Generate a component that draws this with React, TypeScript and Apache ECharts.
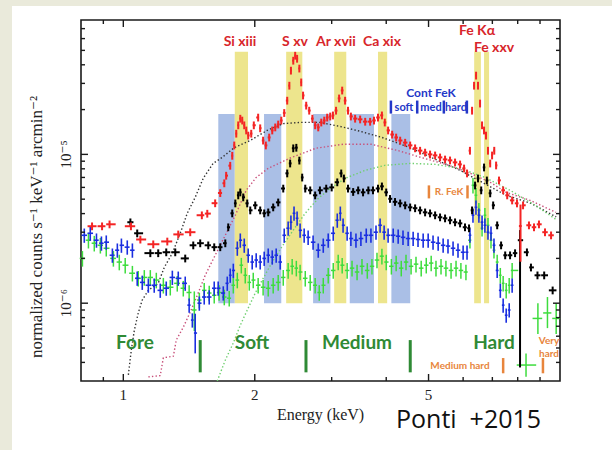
import React, { useEffect, useRef } from 'react';
import * as echarts from 'echarts';

const X_MIN = 0.8;
const X_MAX = 10;
const Y_MIN = 3e-7;
const Y_MAX = 8e-5;

const X_MAJOR_TICKS = [1, 2, 5];
const X_MINOR_TICKS = [0.9, 3, 4, 6, 7, 8, 9];
const Y_MAJOR_TICKS = [1e-6, 1e-5];
const Y_MINOR_TICKS = [
  4e-7, 5e-7, 6e-7, 7e-7, 8e-7, 9e-7,
  2e-6, 3e-6, 4e-6, 5e-6, 6e-6, 7e-6, 8e-6, 9e-6,
  2e-5, 3e-5, 4e-5, 5e-5, 6e-5, 7e-5,
];

// emission line bands (keV) and continuum bands
const LINE_BANDS = [[1.8, 1.93], [2.36, 2.57], [3.04, 3.24], [3.83, 4.02], [6.36, 6.59], [6.7, 6.88]];
const LINE_BAND_FLUX = [1e-6, 4.9e-5];
const CONT_BANDS = [[1.65, 1.8], [2.1, 2.3], [2.72, 2.98], [3.3, 3.75], [4.11, 4.54]];
const CONT_BAND_FLUX = [1e-6, 1.87e-5];

// marker bars
const REGION_BOUNDS = [1.5, 2.62, 4.54];
const REGION_BOUNDS_FLUX = [3.43e-7, 5.65e-7];
const HARD_BOUNDS = [7.41, 9.14];
const HARD_BOUNDS_FLUX = [3.38e-7, 4.28e-7];
const CONT_FEK_BOUNDS = [4.1, 4.71, 5.42, 6.12];
const CONT_FEK_FLUX = [1.88e-5, 2.3e-5];
const RFEK_BOUNDS = [5.01, 6.14];
const RFEK_FLUX = [5.06e-6, 6.19e-6];

// spectra [E, F, (Flo, Fhi, Elo, Ehi)]
const RED = [
  [0.848, 3.29e-6], [0.894, 3.29e-6], [0.93, 3.39e-6], [1.041, 3.29e-6], [1.094, 2.68e-6],
  [1.171, 2.49e-6], [1.261, 2.6e-6], [1.336, 2.9e-6], [1.423, 3.0e-6], [1.513, 3.9e-6],
  [1.557, 4.0e-6], [1.623, 4.7e-6], [1.667, 5.5e-6], [1.703, 6.4e-6], [1.72, 7.2e-6],
  [1.757, 8.4e-6], [1.776, 9.8e-6], [1.795, 1.15e-5], [1.814, 1.38e-5], [1.833, 1.57e-5],
  [1.853, 1.74e-5], [1.872, 1.69e-5], [1.892, 1.57e-5], [1.912, 1.45e-5], [1.932, 1.34e-5],
  [1.963, 1.38e-5], [1.99, 1.57e-5], [2.036, 1.77e-5], [2.058, 1.5e-5], [2.09, 1.24e-5],
  [2.12, 1.15e-5], [2.158, 1.3e-5], [2.193, 1.45e-5], [2.228, 1.52e-5], [2.263, 1.59e-5],
  [2.3, 1.69e-5], [2.336, 1.9e-5], [2.373, 2.3e-5], [2.4, 2.9e-5], [2.42, 3.66e-5],
  [2.45, 4.27e-5], [2.475, 4.61e-5], [2.5, 4.4e-5], [2.53, 3.78e-5], [2.555, 3.05e-5],
  [2.58, 2.49e-5], [2.623, 2.13e-5], [2.665, 1.97e-5], [2.71, 1.74e-5], [2.75, 1.57e-5],
  [2.795, 1.52e-5], [2.84, 1.64e-5], [2.885, 1.69e-5], [2.93, 1.77e-5], [2.977, 1.8e-5],
  [3.02, 1.83e-5], [3.07, 1.97e-5], [3.12, 2.38e-5], [3.171, 2.69e-5], [3.22, 2.3e-5],
  [3.27, 1.97e-5], [3.32, 1.8e-5], [3.395, 1.74e-5], [3.486, 1.72e-5], [3.58, 1.66e-5],
  [3.674, 1.66e-5], [3.75, 1.69e-5], [3.83, 1.77e-5], [3.91, 1.83e-5], [3.97, 1.64e-5],
  [4.04, 1.45e-5], [4.127, 1.36e-5], [4.215, 1.3e-5], [4.305, 1.24e-5], [4.42, 1.2e-5],
  [4.538, 1.15e-5], [4.658, 1.1e-5], [4.782, 1.06e-5], [4.91, 1.03e-5], [5.04, 1.0e-5],
  [5.176, 9.85e-6], [5.313, 9.55e-6], [5.455, 9.25e-6], [5.6, 9.12e-6], [5.75, 8.84e-6],
  [5.904, 8.57e-6], [6.03, 8.05e-6], [6.125, 7.46e-6], [6.22, 1.06e-5], [6.29, 1.97e-5],
  [6.357, 2.9e-5], [6.424, 3.39e-5], [6.49, 2.9e-5], [6.56, 2.2e-5], [6.63, 1.57e-5],
  [6.7, 1.45e-5], [6.77, 1.34e-5], [6.84, 1.06e-5], [6.92, 8.7e-6], [6.99, 9.85e-6],
  [7.07, 1.06e-5], [7.14, 8.44e-6], [7.25, 6.69e-6], [7.41, 5.74e-6], [7.57, 5.31e-6],
  [7.77, 4.91e-6], [7.97, 4.69e-6], [8.12, 3.3e-6, 1.9e-6, 4.6e-6], [8.23, 4.55e-6], [8.49, 3.34e-6],
  [8.72, 3.24e-6], [8.95, 3.39e-6], [9.24, 3.0e-6], [9.54, 2.86e-6],
];

const BLACK = [
  [1.038, 3.5e-6], [1.076, 2.95e-6], [1.153, 2.17e-6], [1.202, 2.17e-6], [1.254, 2.2e-6],
  [1.315, 2.2e-6], [1.386, 2.0e-6], [1.446, 2.45e-6], [1.5, 2.53e-6], [1.565, 2.45e-6],
  [1.615, 2.38e-6], [1.667, 2.38e-6], [1.712, 2.53e-6], [1.739, 3.24e-6], [1.776, 4.02e-6],
  [1.805, 4.69e-6], [1.833, 5.31e-6], [1.853, 5.56e-6], [1.882, 5.15e-6], [1.922, 4.69e-6],
  [1.953, 4.21e-6], [2.005, 4.55e-6], [2.058, 4.21e-6], [2.102, 4.02e-6], [2.147, 4.08e-6],
  [2.204, 4.41e-6], [2.263, 4.76e-6], [2.324, 5.9e-6], [2.373, 7.46e-6], [2.41, 8.7e-6],
  [2.45, 1.1e-5], [2.49, 1.11e-5], [2.53, 9.1e-6], [2.568, 7.0e-6], [2.61, 5.9e-6],
  [2.679, 5.74e-6], [2.75, 5.31e-6], [2.82, 5.74e-6], [2.915, 5.9e-6], [3.0, 6.0e-6],
  [3.09, 6.5e-6], [3.155, 7.46e-6], [3.2, 6.9e-6], [3.27, 5.9e-6], [3.36, 5.6e-6],
  [3.45, 5.74e-6], [3.54, 5.56e-6], [3.64, 5.74e-6], [3.73, 5.74e-6], [3.83, 5.9e-6],
  [3.91, 6.1e-6], [4.0, 5.56e-6], [4.08, 5.03e-6], [4.19, 4.8e-6], [4.305, 4.69e-6],
  [4.42, 4.55e-6], [4.538, 4.41e-6], [4.658, 4.35e-6], [4.782, 4.21e-6], [4.91, 4.08e-6],
  [5.04, 4.02e-6], [5.176, 3.9e-6], [5.313, 3.78e-6], [5.455, 3.72e-6], [5.6, 3.61e-6],
  [5.75, 3.5e-6], [5.904, 3.44e-6], [6.06, 3.24e-6], [6.19, 3.19e-6], [6.29, 4.21e-6],
  [6.39, 6.19e-6], [6.49, 6.9e-6], [6.6, 5.74e-6], [6.7, 8.18e-6], [6.8, 6.69e-6],
  [6.92, 5.48e-6], [7.03, 4.55e-6], [7.18, 3.34e-6], [7.33, 2.45e-6], [7.49, 2.1e-6],
  [7.685, 2.1e-6], [7.89, 2.17e-6], [8.1, 2.65e-6, 3.7e-7, 3.1e-6], [8.4, 2.2e-6], [8.58, 1.74e-6],
  [8.88, 1.54e-6], [9.2, 1.54e-6], [9.62, 1.22e-6],
];

const BLUE = [
  [0.814, 2.86e-6], [0.84, 2.95e-6], [0.868, 2.65e-6], [0.891, 2.53e-6], [0.914, 2.57e-6],
  [0.944, 2.1e-6], [0.969, 2.27e-6], [0.99, 2.45e-6], [1.021, 2.38e-6], [1.049, 2.27e-6],
  [1.076, 1.47e-6], [1.105, 1.38e-6], [1.141, 1.32e-6], [1.177, 1.32e-6], [1.215, 1.22e-6],
  [1.254, 1.26e-6], [1.295, 1.49e-6], [1.336, 1.47e-6], [1.386, 1.36e-6], [1.415, 9.7e-7],
  [1.439, 7.7e-7], [1.461, 6.3e-7, 4.6e-7, 8.5e-7], [1.493, 1.0e-6], [1.532, 1.1e-6], [1.573, 1.1e-6],
  [1.615, 1.26e-6], [1.649, 1.26e-6], [1.694, 1.17e-6], [1.73, 1.36e-6], [1.757, 1.54e-6],
  [1.786, 1.66e-6], [1.824, 2.34e-6], [1.853, 2.65e-6], [1.892, 2.45e-6], [1.932, 2.1e-6],
  [1.973, 1.89e-6], [2.015, 1.95e-6], [2.058, 1.89e-6], [2.102, 2.0e-6], [2.147, 2.1e-6],
  [2.193, 2.04e-6], [2.239, 2.1e-6], [2.287, 1.89e-6], [2.336, 2.86e-6], [2.385, 3.19e-6],
  [2.42, 3.5e-6], [2.46, 4.02e-6], [2.5, 3.72e-6], [2.54, 3.09e-6], [2.595, 2.86e-6],
  [2.65, 2.77e-6], [2.72, 2.57e-6], [2.795, 2.27e-6], [2.87, 2.45e-6], [2.946, 2.65e-6],
  [3.025, 2.95e-6], [3.09, 3.61e-6], [3.14, 4.02e-6], [3.186, 3.34e-6], [3.255, 2.95e-6],
  [3.32, 2.72e-6], [3.41, 2.65e-6], [3.5, 2.72e-6], [3.6, 2.86e-6], [3.69, 2.86e-6],
  [3.79, 3.0e-6], [3.873, 3.34e-6], [3.956, 3.0e-6], [4.04, 2.86e-6], [4.15, 2.86e-6],
  [4.26, 2.82e-6], [4.37, 2.77e-6], [4.49, 2.72e-6], [4.61, 2.72e-6], [4.73, 2.68e-6],
  [4.86, 2.65e-6], [4.99, 2.65e-6], [5.12, 2.57e-6], [5.26, 2.53e-6], [5.4, 2.45e-6],
  [5.54, 2.42e-6], [5.69, 2.34e-6], [5.84, 2.27e-6], [6.0, 2.2e-6], [6.125, 2.2e-6],
  [6.22, 2.86e-6], [6.32, 3.9e-6], [6.42, 4.41e-6], [6.52, 3.9e-6], [6.63, 3.5e-6],
  [6.73, 3.34e-6], [6.84, 3.0e-6], [6.95, 2.95e-6], [7.06, 2.45e-6], [7.18, 1.66e-6],
  [7.3, 1.22e-6], [7.41, 9.7e-7], [7.53, 8.3e-7], [7.65, 9.0e-7], [7.77, 1.32e-6],
];

const GREEN = [
  [0.806, 2.0e-6], [0.832, 2.65e-6], [0.858, 2.53e-6], [0.886, 2.45e-6], [0.914, 2.34e-6],
  [0.949, 2.0e-6], [0.979, 1.89e-6], [1.01, 1.8e-6], [1.049, 1.59e-6], [1.082, 1.47e-6],
  [1.117, 1.49e-6], [1.153, 1.49e-6], [1.19, 1.43e-6], [1.235, 1.32e-6], [1.281, 1.28e-6],
  [1.329, 1.36e-6], [1.372, 1.26e-6], [1.415, 1.18e-6], [1.454, 9.0e-7, 6.5e-7, 1.2e-6], [1.493, 1.05e-6],
  [1.532, 1.22e-6], [1.573, 1.17e-6], [1.615, 1.13e-6], [1.657, 1.18e-6], [1.703, 1.1e-6],
  [1.748, 1.08e-6], [1.786, 1.32e-6], [1.824, 1.43e-6], [1.863, 1.8e-6], [1.902, 1.54e-6],
  [1.943, 1.38e-6], [1.984, 1.43e-6], [2.036, 1.32e-6], [2.09, 1.28e-6], [2.147, 1.26e-6],
  [2.204, 1.32e-6], [2.263, 1.38e-6], [2.324, 1.49e-6], [2.385, 1.66e-6], [2.436, 1.77e-6],
  [2.49, 1.72e-6], [2.54, 1.62e-6], [2.61, 1.47e-6], [2.679, 1.38e-6], [2.75, 1.32e-6],
  [2.81, 1.18e-6], [2.87, 1.32e-6], [2.946, 1.54e-6], [3.025, 1.66e-6], [3.105, 1.89e-6],
  [3.171, 1.8e-6], [3.255, 1.66e-6], [3.34, 1.72e-6], [3.43, 1.62e-6], [3.52, 1.77e-6],
  [3.62, 1.66e-6], [3.71, 1.77e-6], [3.81, 1.95e-6], [3.91, 2.07e-6], [4.0, 1.89e-6],
  [4.11, 1.77e-6], [4.215, 1.86e-6], [4.33, 1.72e-6], [4.44, 1.89e-6], [4.56, 1.77e-6],
  [4.68, 1.83e-6], [4.81, 1.72e-6], [4.94, 1.8e-6], [5.07, 1.86e-6], [5.2, 1.72e-6],
  [5.34, 1.77e-6], [5.48, 1.72e-6], [5.63, 1.66e-6], [5.78, 1.72e-6], [5.93, 1.66e-6],
  [6.09, 1.62e-6], [6.22, 2.65e-6], [6.32, 6.2e-6], [6.42, 5.31e-6], [6.52, 4.21e-6],
  [6.63, 3.19e-6], [6.73, 3.9e-6], [6.84, 3.34e-6], [6.95, 2.65e-6], [7.06, 2.27e-6],
  [7.18, 1.89e-6], [7.3, 1.54e-6], [7.41, 1.36e-6], [7.53, 1.22e-6], [7.65, 1.32e-6],
  [7.77, 1.66e-6], [8.36, 3.84e-7, 3.2e-7, 4.6e-7, 7.96, 8.82], [8.9, 7.9e-7, 6.2e-7, 1.0e-6],
  [9.36, 8.6e-7, 6.8e-7, 1.1e-6], [9.8, 7.9e-7, 6.2e-7, 1.0e-6],
];

// model curves
const MODEL_BLACK = [
  [1.027, 3.3e-7], [1.043, 4.84e-7], [1.06, 6.6e-7], [1.082, 8.6e-7], [1.105, 1.05e-6],
  [1.141, 1.22e-6], [1.202, 1.36e-6], [1.241, 1.74e-6], [1.295, 2.17e-6], [1.35, 2.95e-6],
  [1.401, 4.02e-6], [1.461, 5.15e-6], [1.524, 6.9e-6], [1.606, 8.7e-6], [1.685, 9.55e-6],
  [1.795, 1.11e-5], [1.953, 1.24e-5], [2.135, 1.45e-5], [2.324, 1.61e-5], [2.54, 1.64e-5],
  [2.82, 1.64e-5], [3.14, 1.54e-5], [3.486, 1.43e-5], [3.91, 1.3e-5], [4.538, 1.11e-5],
  [5.24, 9.12e-6], [5.904, 7.81e-6], [6.7, 6.39e-6], [7.53, 5.31e-6], [8.58, 4.69e-6],
  [9.8, 3.8e-6],
];
const MODEL_RED = [
  [1.141, 3.2e-7], [1.215, 3.26e-7], [1.235, 4.3e-7], [1.302, 4.4e-7], [1.322, 5.65e-7],
  [1.372, 6.9e-7], [1.423, 8.7e-7], [1.477, 1.13e-6], [1.54, 1.54e-6], [1.623, 2.1e-6],
  [1.712, 2.86e-6], [1.805, 3.9e-6], [1.912, 5.74e-6], [2.015, 7.0e-6], [2.147, 8.05e-6],
  [2.4, 9.4e-6], [2.76, 1.1e-5], [3.186, 1.17e-5], [3.69, 1.17e-5], [4.26, 1.06e-5],
  [4.8, 9.55e-6], [5.57, 8.44e-6], [6.16, 7.57e-6], [6.92, 6.5e-6], [7.53, 5.56e-6],
  [8.54, 4.91e-6], [9.79, 4.08e-6],
];
const MODEL_GREEN = [
  [1.641, 3.0e-7], [1.712, 4.14e-7], [1.785, 5.39e-7], [1.853, 7.11e-7], [1.922, 8.98e-7],
  [2.005, 1.17e-6], [2.091, 1.47e-6], [2.193, 1.89e-6], [2.311, 2.41e-6], [2.449, 3.09e-6],
  [2.609, 4.02e-6], [2.795, 5.06e-6], [2.977, 5.9e-6], [3.22, 6.9e-6], [3.58, 7.81e-6],
  [3.97, 8.44e-6], [4.538, 8.7e-6], [5.18, 8.57e-6], [5.904, 8.05e-6], [6.73, 7.0e-6],
  [7.685, 5.74e-6], [8.77, 4.55e-6], [9.85, 3.61e-6],
];

const AXIS_COLOR = '#1a1a1a';
const SERIF = '"Liberation Serif", "DejaVu Serif", serif';

function crossData(pts: number[][], errFrac: number) {
  const lg = pts.map((p) => Math.log10(p[0]));
  return pts.map((p, i) => {
    const dl = i > 0 ? (lg[i] - lg[i - 1]) / 2 : i < pts.length - 1 ? (lg[i + 1] - lg[i]) / 2 : 0.01;
    const dr = i < pts.length - 1 ? (lg[i + 1] - lg[i]) / 2 : dl;
    const hl = Math.min(dl * 0.9, 0.014);
    const hr = Math.min(dr * 0.9, 0.014);
    const fLo = p[2] !== undefined ? p[2] : p[1] * (1 - errFrac);
    const fHi = p[3] !== undefined ? p[3] : p[1] * (1 + errFrac);
    const eLo = p[4] !== undefined ? p[4] : Math.pow(10, lg[i] - hl);
    const eHi = p[5] !== undefined ? p[5] : Math.pow(10, lg[i] + hr);
    return [p[0], p[1], eLo, eHi, fLo, fHi];
  });
}

function crossSeries(name: string, pts: number[][], color: string, width: number, errFrac: number, z: number) {
  return {
    type: 'custom',
    name,
    z,
    silent: true,
    coordinateSystem: 'cartesian2d',
    encode: { x: 0, y: 1 },
    data: crossData(pts, errFrac),
    renderItem: (params: any, api: any) => {
      const e = api.value(0);
      const f = api.value(1);
      const a = api.coord([api.value(2), f]);
      const b = api.coord([api.value(3), f]);
      const c = api.coord([e, api.value(5)]);
      const d = api.coord([e, api.value(4)]);
      const st = { stroke: color, lineWidth: width };
      return {
        type: 'group',
        children: [
          { type: 'line', shape: { x1: a[0], y1: a[1], x2: b[0], y2: b[1] }, style: st },
          { type: 'line', shape: { x1: c[0], y1: c[1], x2: d[0], y2: d[1] }, style: st },
        ],
      };
    },
  };
}

function bandSeries(bands: number[][], flux: number[], color: string, z: number) {
  return {
    type: 'custom',
    z,
    silent: true,
    coordinateSystem: 'cartesian2d',
    encode: { x: [0, 1], y: [2, 3] },
    data: bands.map((b) => [b[0], b[1], flux[0], flux[1]]),
    renderItem: (params: any, api: any) => {
      const p1 = api.coord([api.value(0), api.value(3)]);
      const p2 = api.coord([api.value(1), api.value(2)]);
      return {
        type: 'rect',
        shape: { x: p1[0], y: p1[1], width: p2[0] - p1[0], height: p2[1] - p1[1] },
        style: { fill: color },
      };
    },
  };
}

function markerSeries(values: number[], flux: number[], color: string, width: number, z: number) {
  return {
    type: 'custom',
    z,
    silent: true,
    coordinateSystem: 'cartesian2d',
    encode: { x: 0, y: [1, 2] },
    data: values.map((v) => [v, flux[0], flux[1]]),
    renderItem: (params: any, api: any) => {
      const p1 = api.coord([api.value(0), api.value(2)]);
      const p2 = api.coord([api.value(0), api.value(1)]);
      return {
        type: 'line',
        shape: { x1: p1[0], y1: p1[1], x2: p2[0], y2: p2[1] },
        style: { stroke: color, lineWidth: width },
      };
    },
  };
}

function modelSeries(pts: number[][], color: string) {
  return {
    type: 'line',
    z: 2,
    silent: true,
    data: pts,
    showSymbol: false,
    symbol: 'none',
    lineStyle: { color, width: 1.4, type: [1.4, 2.2] },
  };
}

function xTickSeries() {
  const data = [
    ...X_MAJOR_TICKS.map((v) => [v, Y_MIN, 1]),
    ...X_MINOR_TICKS.map((v) => [v, Y_MIN, 0]),
  ];
  return {
    type: 'custom',
    z: 20,
    silent: true,
    coordinateSystem: 'cartesian2d',
    encode: { x: 0, y: 1 },
    data,
    renderItem: (params: any, api: any) => {
      const v = api.value(0);
      const major = api.value(2) === 1;
      const b = api.coord([v, Y_MIN]);
      const t = api.coord([v, Y_MAX]);
      const len = major ? 7 : 4;
      const st = { stroke: AXIS_COLOR, lineWidth: 1.4 };
      const children: any[] = [
        { type: 'line', shape: { x1: b[0], y1: b[1], x2: b[0], y2: b[1] - len }, style: st },
        { type: 'line', shape: { x1: t[0], y1: t[1], x2: t[0], y2: t[1] + len }, style: st },
      ];
      if (major) {
        children.push({
          type: 'text',
          x: b[0],
          y: b[1] + 6,
          style: {
            text: String(v),
            fill: '#222',
            font: '15px ' + SERIF,
            align: 'center',
            verticalAlign: 'top',
            textAlign: 'center',
            textVerticalAlign: 'top',
          },
        });
      }
      return { type: 'group', children };
    },
  };
}

function yTickSeries() {
  const data = [
    ...Y_MAJOR_TICKS.map((v) => [X_MIN, v, 1]),
    ...Y_MINOR_TICKS.map((v) => [X_MIN, v, 0]),
  ];
  return {
    type: 'custom',
    z: 20,
    silent: true,
    coordinateSystem: 'cartesian2d',
    encode: { x: 0, y: 1 },
    data,
    renderItem: (params: any, api: any) => {
      const v = api.value(1);
      const major = api.value(2) === 1;
      const l = api.coord([X_MIN, v]);
      const r = api.coord([X_MAX, v]);
      const len = major ? 7 : 4;
      const st = { stroke: AXIS_COLOR, lineWidth: 1.4 };
      return {
        type: 'group',
        children: [
          { type: 'line', shape: { x1: l[0], y1: l[1], x2: l[0] + len, y2: l[1] }, style: st },
          { type: 'line', shape: { x1: r[0], y1: r[1], x2: r[0] - len, y2: r[1] }, style: st },
        ],
      };
    },
  };
}

function txt(text: string, x: number, y: number, color: string, font: string, align = 'center', rotation = 0) {
  return {
    type: 'text',
    x,
    y,
    rotation,
    z: 50,
    silent: true,
    style: {
      text,
      fill: color,
      font,
      align,
      verticalAlign: 'middle',
      textAlign: align,
      textVerticalAlign: 'middle',
    },
  };
}

const RED_TXT = '#d8262b';
const BLUE_TXT = '#2438c8';
const GREEN_TXT = '#2f8a35';
const ORANGE_TXT = '#e8853c';
const LATO = 'Lato, "Open Sans", sans-serif';

export default function App() {
  const ref = useRef<HTMLDivElement>(null);
  useEffect(() => {
    if (!ref.current) return;
    const chart = echarts.init(ref.current, null, { renderer: 'svg' });
    const option: any = {
      animation: false,
      backgroundColor: '#ffffff',
      grid: {
        left: 81,
        top: 20,
        width: 479,
        height: 361,
        show: true,
        borderColor: AXIS_COLOR,
        borderWidth: 1.6,
        backgroundColor: 'transparent',
      },
      xAxis: {
        type: 'log',
        logBase: 10,
        min: X_MIN,
        max: X_MAX,
        axisLine: { show: false },
        axisTick: { show: false },
        axisLabel: { show: false },
        splitLine: { show: false },
        name: 'Energy (keV)',
        nameLocation: 'middle',
        nameGap: 25,
        nameTextStyle: { fontFamily: SERIF, fontSize: 16, color: '#222' },
      },
      yAxis: {
        type: 'log',
        logBase: 10,
        min: Y_MIN,
        max: Y_MAX,
        axisLine: { show: false },
        axisTick: { show: false },
        splitLine: { show: false },
        axisLabel: {
          rotate: 90,
          margin: 8,
          fontFamily: SERIF,
          fontSize: 15,
          color: '#222',
          showMinLabel: false,
          showMaxLabel: false,
          formatter: (v: number) => {
            const l = Math.log10(v);
            if (Math.abs(l + 5) < 1e-6) return '10⁻⁵';
            if (Math.abs(l + 6) < 1e-6) return '10⁻⁶';
            return '';
          },
        },
      },
      series: [
        bandSeries(CONT_BANDS, CONT_BAND_FLUX, '#aabfe6', 1),
        bandSeries(LINE_BANDS, LINE_BAND_FLUX, '#ede58d', 1),
        modelSeries(MODEL_BLACK, '#333333'),
        modelSeries(MODEL_RED, '#c8507a'),
        modelSeries(MODEL_GREEN, '#6fcf6f'),
        crossSeries('green', GREEN, '#3ddc3d', 1.5, 0.12, 3),
        crossSeries('blue', BLUE, '#1a2ee0', 1.6, 0.11, 4),
        crossSeries('black', BLACK, '#000000', 2, 0.06, 5),
        crossSeries('red', RED, '#f42424', 2, 0.06, 6),
        markerSeries(REGION_BOUNDS, REGION_BOUNDS_FLUX, '#2f8a35', 3, 7),
        markerSeries(HARD_BOUNDS, HARD_BOUNDS_FLUX, '#e8853c', 2.5, 7),
        markerSeries(CONT_FEK_BOUNDS, CONT_FEK_FLUX, '#2438c8', 2.5, 7),
        markerSeries(RFEK_BOUNDS, RFEK_FLUX, '#e8853c', 2.5, 7),
        xTickSeries(),
        yTickSeries(),
      ],
      graphic: {
        elements: [
          { type: 'rect', shape: { x: 0, y: 0, width: 12, height: 450 }, style: { fill: '#eaeadb' }, silent: true },
          { type: 'rect', shape: { x: 0, y: 0, width: 612, height: 6 }, style: { fill: '#eaeadb' }, silent: true },
          txt('normalized counts s⁻¹ keV⁻¹ arcmin⁻²', 36, 227, '#222', '17px ' + SERIF, 'center', Math.PI / 2),
          txt('Si xiii', 240, 40, RED_TXT, 'bold 14px ' + LATO),
          txt('S xv', 295, 40, RED_TXT, 'bold 14px ' + LATO),
          txt('Ar xvii', 336, 40, RED_TXT, 'bold 14px ' + LATO),
          txt('Ca xix', 382, 40, RED_TXT, 'bold 14px ' + LATO),
          txt('Fe Kα', 477, 29, RED_TXT, 'bold 14px ' + LATO),
          txt('Fe xxv', 494, 46, RED_TXT, 'bold 14px ' + LATO),
          txt('Cont FeK', 431, 92, BLUE_TXT, 'bold 12px ' + LATO),
          txt('soft', 404, 106, BLUE_TXT, 'bold 11px ' + LATO),
          txt('med', 431, 106, BLUE_TXT, 'bold 11px ' + LATO),
          txt('hard', 456, 106, BLUE_TXT, 'bold 11px ' + LATO),
          txt('R. FeK', 449, 191, ORANGE_TXT, 'bold 10px ' + LATO),
          txt('Fore', 135, 341, GREEN_TXT, 'bold 19px ' + LATO),
          txt('Soft', 252, 341, GREEN_TXT, 'bold 19px ' + LATO),
          txt('Medium', 357, 341, GREEN_TXT, 'bold 19px ' + LATO),
          txt('Hard', 494, 341, GREEN_TXT, 'bold 19px ' + LATO),
          txt('Medium hard', 460, 365, ORANGE_TXT, 'bold 10px ' + LATO),
          txt('Very', 549, 340, ORANGE_TXT, 'bold 10px ' + LATO),
          txt('hard', 549, 353, ORANGE_TXT, 'bold 10px ' + LATO),
          txt('Ponti\u00a0 +2015', 396, 418, '#111111', '25px "Open Sans", sans-serif', 'left'),
        ],
      },
    };
    chart.setOption(option);
    return () => chart.dispose();
  }, []);
  return (
    <div
      ref={ref}
      style={{ position: 'fixed', left: 0, top: 0, width: 612, height: 450 }}
    />
  );
}
